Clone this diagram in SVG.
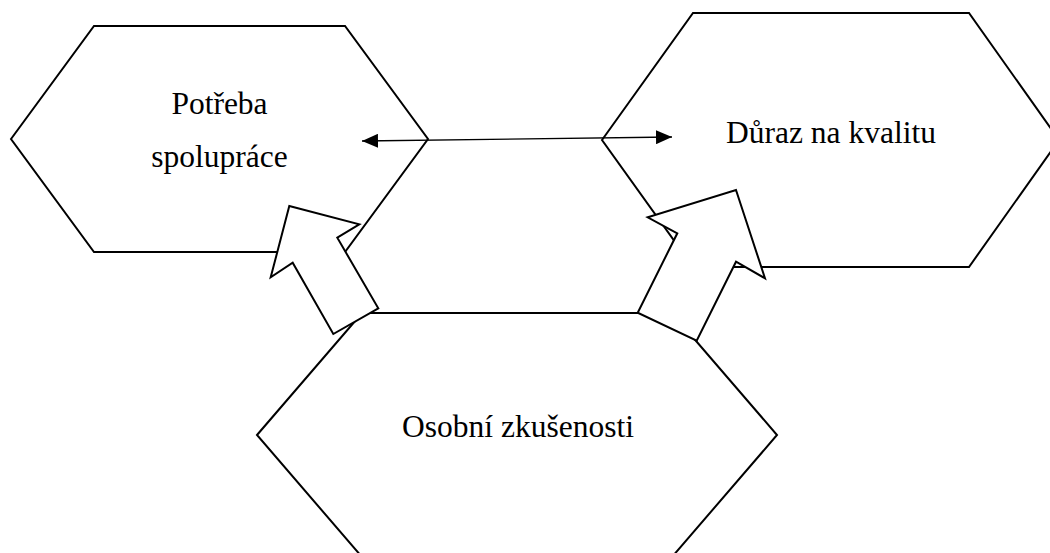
<svg xmlns="http://www.w3.org/2000/svg" width="1050" height="553" viewBox="0 0 1050 553">
  <style>
    .hex { fill: #ffffff; stroke: #000000; stroke-width: 2; stroke-linejoin: miter; }
    .blk { fill: #ffffff; stroke: #000000; stroke-width: 2; stroke-linejoin: miter; }
    .lbl { font-family: "Liberation Serif", "Times New Roman", serif; font-size: 31.5px; fill: #000000; text-anchor: middle; }
    .conn { stroke: #000000; stroke-width: 1.4; fill: none; }
  </style>
  <defs>
    <marker id="ah" markerUnits="userSpaceOnUse" markerWidth="18" markerHeight="14" refX="16" refY="7" orient="auto-start-reverse">
      <path d="M0,0 L16,7 L0,14 Z" fill="#000000"/>
    </marker>
  </defs>
  <rect x="0" y="0" width="1050" height="553" fill="#ffffff"/>

  <g id="node-potreba">
    <polygon class="hex" points="11,139 94,26 345,26 428,139 345,252 94,252"/>
    <text class="lbl" x="219.5" y="114">Potřeba</text>
    <text class="lbl" x="219.5" y="167">spolupráce</text>
  </g>

  <g id="node-duraz">
    <polygon class="hex" points="602,140 693,13 969,13 1059,140 969,267 693,267"/>
    <text class="lbl" x="831" y="143">Důraz na kvalitu</text>
  </g>

  <g id="node-osobni">
    <polygon class="hex" points="257,435 362,313 672,313 777,435 672,557 362,557"/>
    <text class="lbl" x="518" y="437">Osobní zkušenosti</text>
  </g>

  <g id="connectors">
    <line class="conn" x1="362" y1="141" x2="672" y2="137" marker-start="url(#ah)" marker-end="url(#ah)"/>
    <polygon class="blk" points="289.3,206 359.3,224.3 337.3,237.7 378.3,308.3 333.3,334 292.7,262.7 270.7,277.3"/>
    <polygon class="blk" points="736,190 765,278.3 736,261.7 696.7,340.7 637.7,312.7 677.3,233.3 647.7,217.3"/>
  </g>
</svg>
